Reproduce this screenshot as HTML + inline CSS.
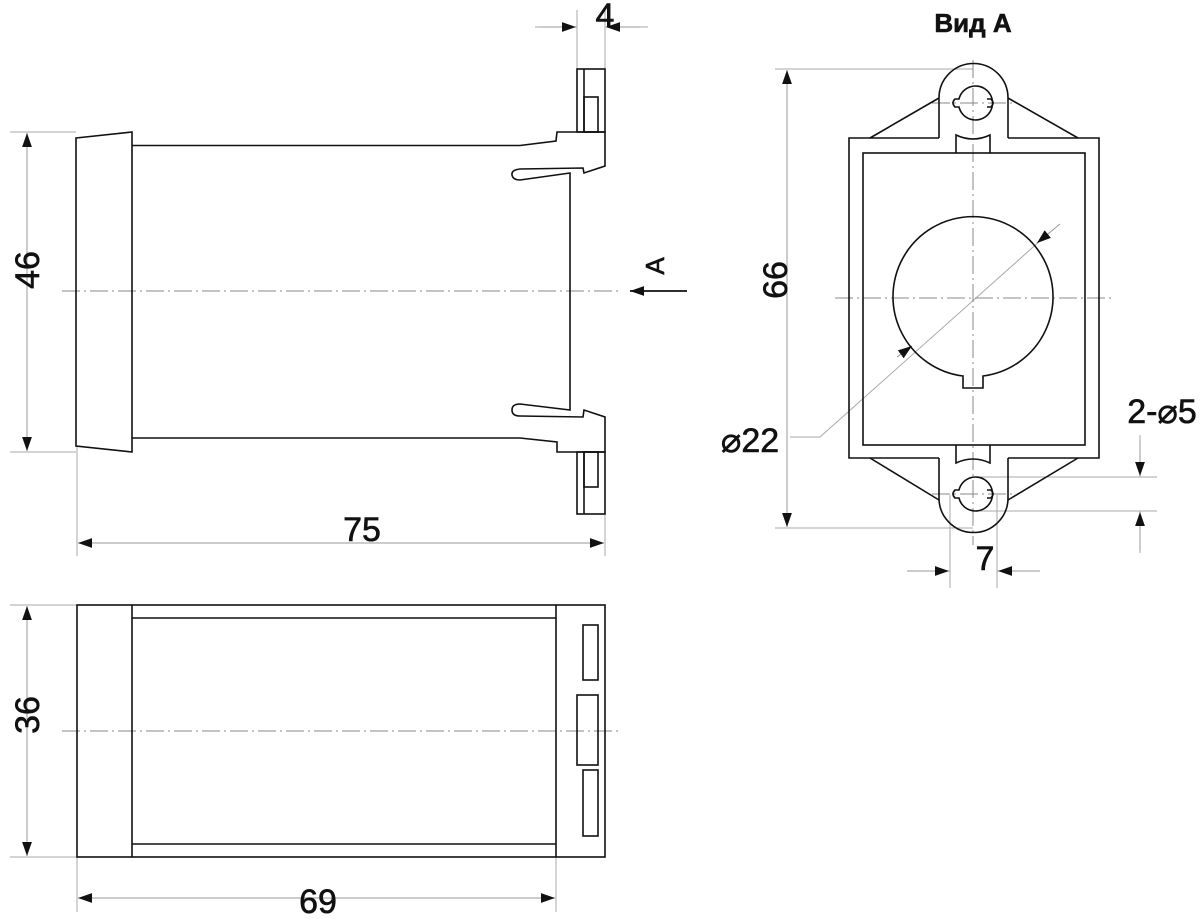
<!DOCTYPE html>
<html><head><meta charset="utf-8"><style>
html,body{margin:0;padding:0;background:#fff}
svg{display:block}
text{font-family:"Liberation Sans",sans-serif;fill:#111}
</style></head><body>
<svg width="1200" height="919" viewBox="0 0 1200 919" xmlns="http://www.w3.org/2000/svg">
<defs>
<marker id="ar" viewBox="0 0 10 10" refX="10" refY="5" markerWidth="14" markerHeight="14" markerUnits="userSpaceOnUse" orient="auto-start-reverse">
<path d="M0,1.5 L10,5 L0,8.5 Z" fill="#111"/></marker>
</defs>
<g fill="none" stroke="#aaa" stroke-width="1">
<line x1="10" y1="132" x2="76" y2="132"/><line x1="10" y1="452" x2="76" y2="452"/>
<line x1="77" y1="446" x2="77" y2="556"/><line x1="605" y1="514" x2="605" y2="556"/>
<line x1="577" y1="10" x2="577" y2="69"/><line x1="605" y1="10" x2="605" y2="69"/>
<line x1="535" y1="27" x2="577" y2="27"/><line x1="605" y1="27" x2="648" y2="27"/>
<line x1="10" y1="605" x2="77" y2="605"/><line x1="10" y1="857" x2="77" y2="857"/>
<line x1="77" y1="857" x2="77" y2="912"/><line x1="556" y1="857" x2="556" y2="912"/>
<line x1="775" y1="69" x2="973" y2="69"/><line x1="775" y1="528" x2="973" y2="528"/>
<line x1="980" y1="477" x2="1157" y2="477"/><line x1="980" y1="511" x2="1157" y2="511"/>
<line x1="950" y1="495" x2="950" y2="588"/><line x1="997" y1="495" x2="997" y2="588"/>
<line x1="907" y1="571" x2="950" y2="571"/><line x1="997" y1="571" x2="1040" y2="571"/>
<line x1="1140" y1="435" x2="1140" y2="477"/><line x1="1140" y1="511" x2="1140" y2="553"/>
<polyline points="790,437 820,437 1050,232"/>
</g>
<g fill="none" stroke="#888" stroke-width="1" stroke-dasharray="18,4,2,4">
<line x1="62" y1="291" x2="620" y2="291"/>
<line x1="62" y1="731" x2="620" y2="731"/>
<line x1="835" y1="298" x2="1112" y2="298"/>
<line x1="973" y1="60" x2="973" y2="545"/>
<line x1="932" y1="103" x2="1014" y2="103"/>
<line x1="932" y1="494" x2="1014" y2="494"/>
</g>
<g fill="none" stroke="#999" stroke-width="1">
<line x1="27" y1="133" x2="27" y2="451" marker-start="url(#ar)" marker-end="url(#ar)"/>
<line x1="78" y1="543" x2="604" y2="543" marker-start="url(#ar)" marker-end="url(#ar)"/>
<line x1="27" y1="606" x2="27" y2="856" marker-start="url(#ar)" marker-end="url(#ar)"/>
<line x1="78" y1="898" x2="555" y2="898" marker-start="url(#ar)" marker-end="url(#ar)"/>
<line x1="787" y1="70" x2="787" y2="527" marker-start="url(#ar)" marker-end="url(#ar)"/>
<line x1="540" y1="27" x2="576" y2="27" marker-end="url(#ar)"/>
<line x1="640" y1="27" x2="606" y2="27" marker-end="url(#ar)"/>
<line x1="907" y1="571" x2="949" y2="571" marker-end="url(#ar)"/>
<line x1="1040" y1="571" x2="998" y2="571" marker-end="url(#ar)"/>
<line x1="1140" y1="440" x2="1140" y2="476" marker-end="url(#ar)"/>
<line x1="1140" y1="550" x2="1140" y2="512" marker-end="url(#ar)"/>
<line x1="1060" y1="224" x2="1037" y2="243" marker-end="url(#ar)"/>
<line x1="897" y1="357" x2="912" y2="346" marker-end="url(#ar)"/>
</g>
<g fill="none" stroke="#111" stroke-width="1.6">
<line x1="687" y1="291" x2="630" y2="291" stroke-width="1.8" marker-end="url(#ar)"/>
<polygon points="76,138 132,132 132,452 76,446"/>
<line x1="132" y1="145.5" x2="520" y2="145.5"/>
<path d="M520,145.5 L556,141 L557,132 L605,132 L605,166 L584,173 L583,168 L520,169 Q511,170 512,175 Q513,180 520,180 L570,173 L570,410 L520,404 Q512,404 512,410 Q512,416 520,416 L583,417 L584,410 L605,417 L605,452 L557,452 L557,442 L520,438 L132,438"/>
<rect x="577" y="69" width="28" height="63"/>
<line x1="584" y1="69" x2="584" y2="132"/>
<rect x="584" y="97" width="14" height="35"/>
<rect x="577" y="452" width="28" height="62"/>
<line x1="584" y1="452" x2="584" y2="514"/>
<rect x="584" y="452" width="14" height="35"/>
<rect x="77" y="605" width="528" height="252"/>
<line x1="132" y1="618" x2="556" y2="618"/>
<line x1="132" y1="844" x2="556" y2="844"/>
<line x1="132" y1="605" x2="132" y2="857"/>
<line x1="556" y1="605" x2="556" y2="857"/>
<rect x="583" y="625" width="15" height="55"/>
<rect x="577" y="695" width="21" height="70"/>
<rect x="583" y="770" width="15" height="66"/>
<polyline points="939,138 849,138 849,458 939,458"/>
<polyline points="1008,138 1099,138 1099,458 1008,458"/>
<rect x="863" y="153" width="222" height="292"/>
<path d="M939,138 L939,98 A34,34 0 0 1 1008,98 L1008,138"/>
<path d="M939,458 L939,498 A34,34 0 0 0 1008,498 L1008,458"/>
<line x1="939" y1="98" x2="870" y2="138"/><line x1="1008" y1="98" x2="1078" y2="138"/>
<line x1="939" y1="500" x2="870" y2="458"/><line x1="1008" y1="500" x2="1078" y2="458"/>
<path d="M956,153 L956,135 Q973,143 990,135 L990,153"/>
<path d="M956,445 L956,463 Q973,455 990,463 L990,445"/>
<path d="M959,99 A17,17 0 1 1 959,107 L955,107 Q951,103 955,99 Z M987,99 L991,99 Q995,103 991,107 L987,107"/>
<path d="M959,490 A17,17 0 1 1 959,498 L955,498 Q951,494 955,490 Z M987,490 L991,490 Q995,494 991,498 L987,498"/>
<path d="M963,376 A80,80 0 1 1 983,376 L983,388 L963,388 Z"/>
</g>
<g font-size="34" text-anchor="middle" stroke="#111" stroke-width="0.6">
<text transform="translate(30,270) rotate(-90)" dominant-baseline="middle">46</text>
<text transform="translate(30,715) rotate(-90)" dominant-baseline="middle">36</text>
<text transform="translate(778,280) rotate(-90)" dominant-baseline="middle">66</text>
<text x="362" y="541">75</text>
<text x="318" y="913">69</text>
<text x="605" y="27">4</text>
<text x="985" y="570">7</text>
<text x="750" y="452">⌀22</text>
<text x="1162" y="423">2-⌀5</text>
<text transform="translate(657,266) rotate(-90)" dominant-baseline="middle" font-size="26">A</text>
<text x="973" y="32" font-size="26" font-weight="bold">Вид А</text>
</g>
</svg>
</body></html>
